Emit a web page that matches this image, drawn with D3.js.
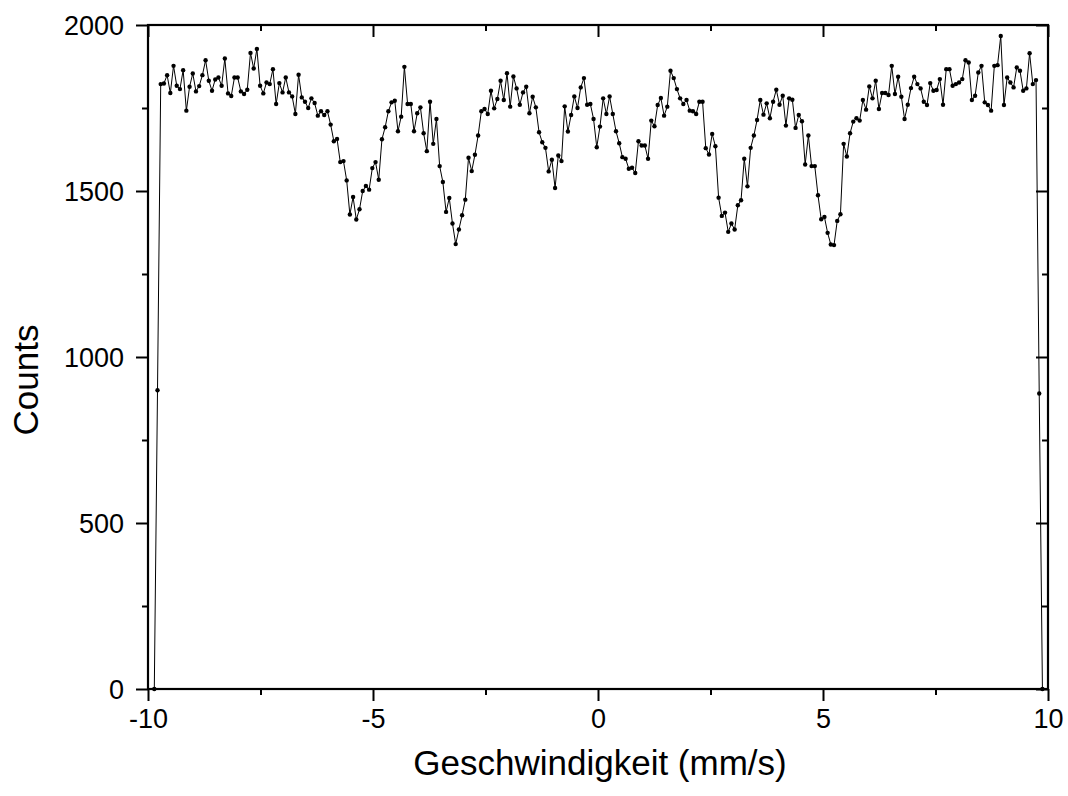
<!DOCTYPE html>
<html>
<head>
<meta charset="utf-8">
<script src="https://cdn.jsdelivr.net/npm/d3@7"></script>
<style>
  html, body { margin: 0; padding: 0; background: #fff; }
  svg { display: block; }
  text { font-family: "Liberation Sans", Arial, sans-serif; fill: #000; }
</style>
</head>
<body>
<svg id="chart" width="1068" height="796"></svg>
<script>
// ---- data ----
const velocityStart = -9.86;   // mm/s, first channel
const velocityStep = 0.07125;  // mm/s per channel
const counts = [
  0, 900,
  1822, 1824, 1849, 1795, 1877, 1817, 1807, 1864, 1742, 1814,
  1854, 1800, 1816, 1849, 1894, 1832, 1802, 1836, 1842, 1817,
  1899, 1794, 1786, 1842, 1842, 1800, 1792, 1805, 1916, 1869,
  1928, 1817, 1794, 1827, 1822, 1867, 1762, 1825, 1797, 1842,
  1797, 1785, 1732, 1850, 1782, 1769, 1750, 1779, 1765, 1727,
  1740, 1729, 1740, 1700, 1650, 1657, 1587, 1590, 1532, 1429,
  1482, 1414, 1445, 1500, 1515, 1504, 1569, 1587, 1534, 1656,
  1692, 1740, 1767, 1772, 1680, 1724, 1874, 1762, 1762, 1680,
  1734, 1752, 1674, 1620, 1769, 1642, 1717, 1575, 1527, 1437,
  1479, 1402, 1340, 1384, 1427, 1474, 1600, 1560, 1609, 1667,
  1740, 1747, 1732, 1802, 1749, 1777, 1832, 1774, 1855, 1754,
  1845, 1809, 1760, 1797, 1814, 1734, 1784, 1752, 1677, 1647,
  1630, 1559, 1594, 1509, 1607, 1590, 1755, 1679, 1729, 1785,
  1750, 1812, 1840, 1760, 1762, 1717, 1632, 1694, 1779, 1732,
  1785, 1732, 1680, 1644, 1602, 1597, 1567, 1570, 1554, 1650,
  1637, 1637, 1597, 1712, 1695, 1759, 1780, 1727, 1754, 1862,
  1840, 1807, 1779, 1762, 1774, 1742, 1740, 1732, 1769, 1769,
  1629, 1610, 1672, 1635, 1480, 1425, 1435, 1377, 1402, 1384,
  1457, 1472, 1597, 1514, 1630, 1667, 1714, 1774, 1730, 1764,
  1719, 1769, 1805, 1760, 1787, 1697, 1779, 1775, 1690, 1729,
  1710, 1580, 1667, 1575, 1575, 1487, 1415, 1422, 1374, 1339,
  1337, 1410, 1430, 1642, 1604, 1674, 1709, 1719, 1712, 1774,
  1745, 1815, 1779, 1832, 1747, 1795, 1795, 1789, 1877, 1792,
  1844, 1784, 1717, 1760, 1810, 1844, 1822, 1809, 1769, 1759,
  1825, 1802, 1804, 1837, 1760, 1867, 1867, 1817, 1822, 1827,
  1837, 1894, 1887, 1774, 1787, 1857, 1877, 1767, 1759, 1742,
  1877, 1879, 1967, 1759, 1842, 1827, 1812, 1872, 1862, 1802,
  1809, 1915, 1822, 1834,
  890, 0
];
const xMajorTicks = [-10, -5, 0, 5, 10];
const xMinorTicks = [-7.5, -2.5, 2.5, 7.5];
const yMajorTicks = [0, 500, 1000, 1500, 2000];
const yMinorTicks = [250, 750, 1250, 1750];
const xTitle = "Geschwindigkeit (mm/s)";
const yTitle = "Counts";

(function () {
// ---- layout ----
const pL = 148, pR = 1048, pT = 25, pB = 689;
const svg = d3.select("#chart");

const x = d3.scaleLinear().domain([-10, 10]).range([pL, pR]);
const y = d3.scaleLinear().domain([0, 2000]).range([pB, pT]);

const data = counts.map((c, i) => ({ v: velocityStart + i * velocityStep, c }));

const majorLen = 12, minorLen = 6;
const fontTick = 27;
const plainFmt = d => String(d);

// bottom axis (outward ticks)
const gBottom = svg.append("g").attr("transform", `translate(0,${pB})`);
gBottom.call(d3.axisBottom(x).tickValues(xMajorTicks).tickSize(majorLen).tickPadding(6).tickFormat(plainFmt));
gBottom.append("g").call(d3.axisBottom(x).tickValues(xMinorTicks).tickSize(minorLen).tickFormat(""));
// top axis (inward ticks)
const gTop = svg.append("g").attr("transform", `translate(0,${pT})`);
gTop.call(d3.axisBottom(x).tickValues(xMajorTicks).tickSize(majorLen).tickFormat(""));
gTop.append("g").call(d3.axisBottom(x).tickValues(xMinorTicks).tickSize(minorLen).tickFormat(""));
// left axis (outward ticks)
const gLeft = svg.append("g").attr("transform", `translate(${pL},0)`);
gLeft.call(d3.axisLeft(y).tickValues(yMajorTicks).tickSize(majorLen).tickPadding(12).tickFormat(plainFmt));
gLeft.append("g").call(d3.axisLeft(y).tickValues(yMinorTicks).tickSize(minorLen).tickFormat(""));
// right axis (inward ticks)
const gRight = svg.append("g").attr("transform", `translate(${pR},0)`);
gRight.call(d3.axisLeft(y).tickValues(yMajorTicks).tickSize(majorLen).tickFormat(""));
gRight.append("g").call(d3.axisLeft(y).tickValues(yMinorTicks).tickSize(minorLen).tickFormat(""));

svg.selectAll(".domain").remove();
svg.selectAll(".tick line").attr("stroke", "#000").attr("stroke-width", 2);
svg.selectAll(".tick text").attr("font-size", fontTick).attr("font-family", "Liberation Sans, Arial, sans-serif").attr("fill", "#000");
gBottom.selectAll(".tick text").attr("dy", "0.78em");
gLeft.selectAll(".tick text").attr("dy", "0.36em");

// frame
svg.append("rect")
  .attr("x", pL).attr("y", pT)
  .attr("width", pR - pL).attr("height", pB - pT)
  .attr("fill", "none").attr("stroke", "#000").attr("stroke-width", 2.2);

// line + markers
const line = d3.line().x(d => x(d.v)).y(d => y(d.c));
svg.append("path").datum(data)
  .attr("d", line).attr("fill", "none").attr("stroke", "#000").attr("stroke-width", 1);
svg.append("g").selectAll("circle").data(data).join("circle")
  .attr("cx", d => x(d.v)).attr("cy", d => y(d.c)).attr("r", 2.2).attr("fill", "#000");

// titles
svg.append("text").attr("x", 600).attr("y", 775)
  .attr("text-anchor", "middle").attr("font-size", 35).text(xTitle);
svg.append("text").attr("transform", `translate(38,380) rotate(-90)`)
  .attr("text-anchor", "middle").attr("font-size", 35).text(yTitle);
})();
</script>
</body>
</html>
